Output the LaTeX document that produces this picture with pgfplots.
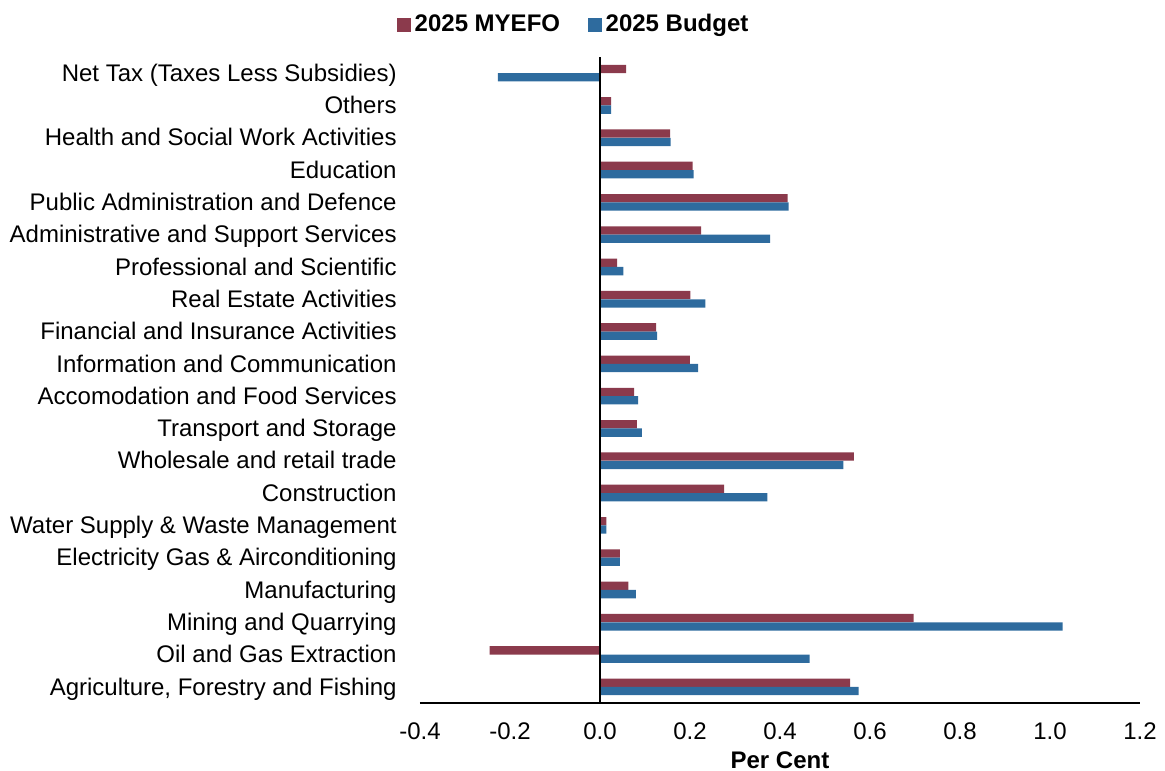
\documentclass[border=0pt]{standalone}
\usepackage{fontspec}
\setmainfont{Liberation Sans}
\usepackage{pgfplots}
\pgfplotsset{compat=1.18}
\definecolor{myefo}{RGB}{139,58,76}
\definecolor{budget}{RGB}{46,107,158}
\begin{document}
\fontsize{12}{14}\selectfont
\begin{tikzpicture}
\begin{axis}[
  scale only axis,
  width=360pt, height=323pt,
  xmin=-0.4, xmax=1.2,
  ymin=-0.5, ymax=19.5,
  xbar, bar width=4.15pt,
  axis x line=bottom, axis y line=left,
  axis line style={-},
  x axis line style={black, line width=1pt},
  y axis line style={draw=none},
  xtick={-0.4,-0.2,0,0.2,0.4,0.6,0.8,1.0,1.2},
  xticklabels={-0.4,-0.2,0.0,0.2,0.4,0.6,0.8,1.0,1.2},
  major tick length=0pt,
  ytick={0,...,19},
  yticklabels={{Agriculture, Forestry and Fishing},Oil and Gas Extraction,Mining and Quarrying,Manufacturing,Electricity Gas \& Airconditioning,Water Supply \& Waste Management,Construction,Wholesale and retail trade,Transport and Storage,Accomodation and Food Services,Information and Communication,Financial and Insurance Activities,Real Estate Activities,Professional and Scientific,Administrative and Support Services,Public Administration and Defence,Education,Health and Social Work Activities,Others,Net Tax (Taxes Less Subsidies)},
  yticklabel style={font=\fontsize{12}{14}\selectfont, anchor=east, text height=8.8pt, text depth=2.6pt, xshift=-7.5pt, yshift=-1pt},
  xticklabel style={font=\fontsize{12}{14}\selectfont, yshift=-5.5pt},
  /pgf/number format/assume math mode=true,
  xlabel={\bfseries Per Cent},
  xlabel style={font=\fontsize{12}{14}\selectfont, yshift=2pt},
  legend columns=2,
  legend style={draw=none, at={(0.215,1.05)}, anchor=center, font=\fontsize{12}{14}\selectfont\bfseries, /tikz/every even column/.append style={column sep=12pt}, inner sep=0pt},
  legend image code/.code={\fill[#1] (0pt,-3.4pt) rectangle (6.8pt,3.4pt);},
  clip=false,
]
\addplot[fill=myefo, draw=none, bar shift=2.08pt] coordinates {
(0.556,0) (-0.245,1) (0.697,2) (0.063,3) (0.044,4) (0.014,5) (0.276,6) (0.564,7) (0.082,8) (0.076,9)
(0.200,10) (0.125,11) (0.201,12) (0.038,13) (0.225,14) (0.417,15) (0.206,16) (0.156,17) (0.025,18) (0.058,19)};
\addlegendentry{2025 MYEFO}
\addplot[fill=budget, draw=none, bar shift=-2.08pt] coordinates {
(0.575,0) (0.466,1) (1.028,2) (0.080,3) (0.044,4) (0.014,5) (0.372,6) (0.541,7) (0.093,8) (0.085,9)
(0.218,10) (0.127,11) (0.234,12) (0.052,13) (0.378,14) (0.419,15) (0.208,16) (0.157,17) (0.025,18) (-0.227,19)};
\addlegendentry{2025 Budget}
\draw[black, line width=1pt] (axis cs:0,-0.5) -- (axis cs:0,19.5);
\coordinate (bl) at (axis cs:-1.3333,-2.605);
\coordinate (tr) at (axis cs:1.2556,21.265);
\end{axis}
\pgfresetboundingbox
\path (bl) rectangle (tr);
\end{tikzpicture}
\end{document}
